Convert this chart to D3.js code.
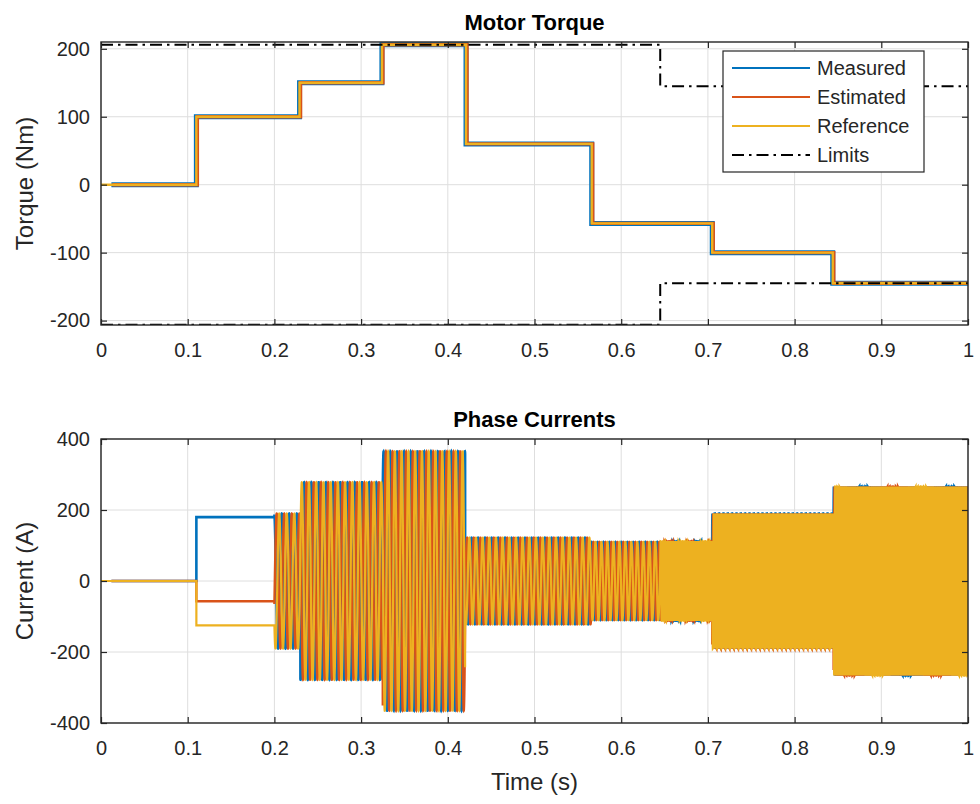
<!DOCTYPE html>
<html><head><meta charset="utf-8">
<script src="https://cdn.jsdelivr.net/npm/d3@7"></script>
<style>
html,body{margin:0;padding:0;background:#fff;}
svg{display:block;font-family:"Liberation Sans",Arial,Helvetica,sans-serif;}
</style></head>
<body>
<svg id="chart" width="980" height="804"></svg>
<script>
// ---------------- DATA ----------------
const xTicks = [0, 0.1, 0.2, 0.3, 0.4, 0.5, 0.6, 0.7, 0.8, 0.9, 1];
const xTickLabels = ["0", "0.1", "0.2", "0.3", "0.4", "0.5", "0.6", "0.7", "0.8", "0.9", "1"];
const torqueTicks = [-200, -100, 0, 100, 200];
const torqueTickLabels = ["-200", "-100", "0", "100", "200"];
const currentTicks = [-400, -200, 0, 200, 400];
const currentTickLabels = ["-400", "-200", "0", "200", "400"];

// torque step times (s) and levels (Nm)
const torqueStepTimes = [0, 0.11, 0.229, 0.324, 0.421, 0.566, 0.705, 0.844, 1.0];
const referenceLevels = [0, 100, 150, 206, 60, -57, -100, -145];
const measuredLevels  = [0, 100, 150, 206, 60, -57, -100, -145];
const estimatedLevels = [0, 100, 150, 206, 60, -57, -100, -145];
const measuredStart = 0.012;

// torque limits
const limitTimes = [0, 0.645, 0.645, 1.0];
const upperLimit = [206, 206, 145, 145];
const lowerLimit = [-206, -206, -145, -145];

// phase currents: DC part (A)
const dcTimes = [0, 0.11, 0.2];
const dcPhaseA = [0, 180];
const dcPhaseB = [0, -57];
const dcPhaseC = [0, -125];
// phase currents: rotating part, per segment
const phaseSegStart = [0.2, 0.23, 0.325, 0.42, 0.565, 0.645, 0.705, 0.845];
const phaseSegEnd   = [0.23, 0.325, 0.42, 0.565, 0.645, 0.705, 0.845, 1.0];
const phaseSegAmp   = [190, 278, 365, 122, 110, 112, 190, 266];
const phaseSegFreq  = [115, 120, 128, 130, 145, 390, 400, 410];
const phaseStartAngleDeg = 10;

const seriesNames = ["Measured", "Estimated", "Reference", "Limits"];
const colors = {blue: "#0072BD", red: "#D95319", yellow: "#EDB120", black: "#000000"};

// ---------------- LAYOUT ----------------
const svg = d3.select("#chart");
svg.append("rect").attr("width", 980).attr("height", 804).attr("fill", "#fff");
const L = 101, R = 968;
const top1 = 42, bot1 = 325, top2 = 439, bot2 = 723;
const textColor = "#262626";

const x = d3.scaleLinear().domain([0, 1]).range([L, R]);
const yT = d3.scaleLinear().domain([-206.5, 210]).range([bot1, top1]);
const yC = d3.scaleLinear().domain([-400, 400]).range([bot2, top2]);

function drawGrid(y, yTicks, top, bot, clipId) {
  const g = svg.append("g");
  g.append("g").selectAll("line").data(xTicks).join("line")
    .attr("x1", d => x(d)).attr("x2", d => x(d)).attr("y1", top).attr("y2", bot)
    .attr("stroke", "#dedede").attr("stroke-width", 1);
  g.append("g").selectAll("line").data(yTicks).join("line")
    .attr("x1", L).attr("x2", R).attr("y1", d => y(d)).attr("y2", d => y(d))
    .attr("stroke", "#dedede").attr("stroke-width", 1);
  svg.append("clipPath").attr("id", clipId).append("rect")
    .attr("x", L).attr("y", top).attr("width", R - L).attr("height", bot - top);
}

function drawFrame(y, yTicks, yLabels, top, bot) {
  const ax = [
    svg.append("g").attr("transform", `translate(0,${bot})`)
      .call(d3.axisBottom(x).tickValues(xTicks).tickFormat(d => xTickLabels[xTicks.indexOf(d)]).tickSizeInner(-6).tickSizeOuter(0).tickPadding(18)),
    svg.append("g").attr("transform", `translate(0,${top})`)
      .call(d3.axisTop(x).tickValues(xTicks).tickFormat("").tickSizeInner(-6).tickSizeOuter(0)),
    svg.append("g").attr("transform", `translate(${L},0)`)
      .call(d3.axisLeft(y).tickValues(yTicks).tickFormat(d => yLabels[yTicks.indexOf(d)]).tickSizeInner(-6).tickSizeOuter(0).tickPadding(11)),
    svg.append("g").attr("transform", `translate(${R},0)`)
      .call(d3.axisRight(y).tickValues(yTicks).tickFormat("").tickSizeInner(-6).tickSizeOuter(0))
  ];
  ax.forEach(a => {
    a.select(".domain").remove();
    a.selectAll("line").attr("stroke", textColor).attr("stroke-width", 1.2);
    a.selectAll("text").attr("fill", textColor).attr("font-size", 20)
      .attr("font-family", '"Liberation Sans",Arial,sans-serif');
  });
  svg.append("rect").attr("x", L).attr("y", top).attr("width", R - L).attr("height", bot - top)
    .attr("fill", "none").attr("stroke", textColor).attr("stroke-width", 1.4);
}

// ---------------- TOP: TORQUE ----------------
drawGrid(yT, torqueTicks, top1, bot1, "clip1");
const gT = svg.append("g").attr("clip-path", "url(#clip1)");

function stepPoints(times, levels, startT) {
  const pts = [];
  for (let i = 0; i < levels.length; i++) {
    const t0 = i === 0 ? startT : times[i];
    pts.push([t0, levels[i]]);
    pts.push([times[i + 1], levels[i]]);
  }
  return pts;
}
const lineT = d3.line().x(d => x(d[0])).y(d => yT(d[1]));

gT.append("path").datum(stepPoints(torqueStepTimes, measuredLevels, measuredStart))
  .attr("d", lineT).attr("fill", "none").attr("stroke", colors.blue).attr("stroke-width", 5);
gT.append("path").datum(stepPoints(torqueStepTimes, estimatedLevels, measuredStart))
  .attr("d", lineT).attr("fill", "none").attr("stroke", colors.red).attr("stroke-width", 3.4)
  .attr("transform", "translate(1,0)");
gT.append("path").datum(stepPoints(torqueStepTimes, referenceLevels, 0))
  .attr("d", lineT).attr("fill", "none").attr("stroke", colors.yellow).attr("stroke-width", 2.4);

const limDash = "12,5,2.5,5";
[upperLimit, lowerLimit].forEach(lim => {
  gT.append("path").datum(limitTimes.map((t, i) => [t, lim[i]]))
    .attr("d", lineT).attr("fill", "none").attr("stroke", "#000")
    .attr("stroke-width", 2).attr("stroke-dasharray", limDash);
});
drawFrame(yT, torqueTicks, torqueTickLabels, top1, bot1);

// legend
const lg = svg.append("g");
lg.append("rect").attr("x", 723).attr("y", 51).attr("width", 201).attr("height", 121)
  .attr("fill", "#fff").attr("stroke", textColor).attr("stroke-width", 1.2);
const legColors = [colors.blue, colors.red, colors.yellow, "#000"];
const legY = [68, 97, 126, 155];
seriesNames.forEach((n, i) => {
  lg.append("line").attr("x1", 732).attr("x2", 810).attr("y1", legY[i]).attr("y2", legY[i])
    .attr("stroke", legColors[i]).attr("stroke-width", 2)
    .attr("stroke-dasharray", i === 3 ? limDash : null);
  lg.append("text").attr("x", 817).attr("y", legY[i]).attr("dy", "0.35em")
    .attr("font-size", 20).attr("fill", textColor).text(n);
});

svg.append("text").attr("x", (L + R) / 2).attr("y", 30).attr("text-anchor", "middle")
  .attr("font-size", 22).attr("font-weight", "bold").attr("fill", "#000").text("Motor Torque");
svg.append("text").attr("transform", `translate(33,${(top1 + bot1) / 2}) rotate(-90)`)
  .attr("text-anchor", "middle").attr("font-size", 24).attr("fill", textColor).text("Torque (Nm)");

// ---------------- BOTTOM: CURRENTS ----------------
drawGrid(yC, currentTicks, top2, bot2, "clip2");
const gC = svg.append("g").attr("clip-path", "url(#clip2)");
const lineC = d3.line().x(d => x(d[0])).y(d => yC(d[1]));

function phaseSeries(dcVals, offsetDeg, startT) {
  const pts = [[startT, dcVals[0]], [dcTimes[1], dcVals[0]], [dcTimes[1], dcVals[1]], [dcTimes[2], dcVals[1]]];
  let ang = phaseStartAngleDeg * Math.PI / 180;
  const dt = 0.00004;
  for (let s = 0; s < phaseSegStart.length; s++) {
    const f = phaseSegFreq[s], A = phaseSegAmp[s];
    for (let t = phaseSegStart[s]; t < phaseSegEnd[s] - 1e-9; t += dt) {
      pts.push([t, A * Math.cos(ang - offsetDeg * Math.PI / 180)]);
      ang += 2 * Math.PI * f * dt;
    }
  }
  pts.push([1, pts[pts.length - 1][1]]);
  return pts;
}
gC.append("path").datum(phaseSeries(dcPhaseA, 0, measuredStart)).attr("d", lineC)
  .attr("fill", "none").attr("stroke", colors.blue).attr("stroke-width", 2.6);
gC.append("path").datum(phaseSeries(dcPhaseB, 120, measuredStart)).attr("d", lineC)
  .attr("fill", "none").attr("stroke", colors.red).attr("stroke-width", 2.4);
gC.append("path").datum(phaseSeries(dcPhaseC, -120, 0)).attr("d", lineC)
  .attr("fill", "none").attr("stroke", colors.yellow).attr("stroke-width", 2.2);
drawFrame(yC, currentTicks, currentTickLabels, top2, bot2);

svg.append("text").attr("x", (L + R) / 2).attr("y", 427).attr("text-anchor", "middle")
  .attr("font-size", 22).attr("font-weight", "bold").attr("fill", "#000").text("Phase Currents");
svg.append("text").attr("transform", `translate(33,${(top2 + bot2) / 2}) rotate(-90)`)
  .attr("text-anchor", "middle").attr("font-size", 24).attr("fill", textColor).text("Current (A)");
svg.append("text").attr("x", (L + R) / 2).attr("y", 790).attr("text-anchor", "middle")
  .attr("font-size", 24).attr("fill", textColor).text("Time (s)");
</script>
</body></html>
